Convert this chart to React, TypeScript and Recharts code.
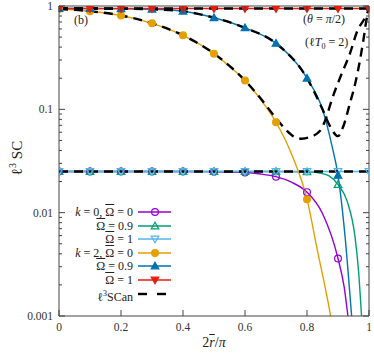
import React from "react";
import { ComposedChart, Line, XAxis, YAxis } from "recharts";

const W = 374;
const H = 353;
// plot frame edges (px), used only for tick decorations
const L = 59;
const R = 369;
const T = 6;
const B = 316;

const FONT = "'Liberation Serif', 'DejaVu Serif', serif";

// k = 0 series
const k0Om0X = [0, 0.1, 0.2, 0.3, 0.4, 0.5, 0.6, 0.65, 0.7, 0.75, 0.8, 0.85, 0.9, 0.92, 0.932, 0.945];
const k0Om0Y = [0.025, 0.025, 0.025, 0.025, 0.025, 0.0249, 0.0245, 0.0237, 0.0223, 0.0197, 0.0158, 0.0098, 0.0036, 0.0019, 0.001, 0.0005];

const k0Om09X = [0, 0.1, 0.2, 0.3, 0.4, 0.5, 0.6, 0.7, 0.8, 0.85, 0.87, 0.9, 0.93, 0.955, 0.966, 0.976, 0.985];
const k0Om09Y = [0.025, 0.025, 0.025, 0.025, 0.025, 0.025, 0.025, 0.025, 0.0248, 0.0239, 0.0228, 0.0187, 0.0128, 0.0058, 0.0028, 0.001, 0.0004];

const k0Om1X = [0, 0.1, 0.2, 0.3, 0.4, 0.5, 0.6, 0.7, 0.8, 0.9, 1];
const k0Om1Y = [0.025, 0.025, 0.025, 0.025, 0.025, 0.025, 0.025, 0.025, 0.025, 0.025, 0.025];

// k = 2 series
const k2Om0X = [0, 0.1, 0.2, 0.3, 0.4, 0.5, 0.55, 0.6, 0.65, 0.7, 0.75, 0.8, 0.835, 0.86, 0.876, 0.89];
const k2Om0Y = [0.935, 0.89, 0.81, 0.68, 0.52, 0.346, 0.26, 0.19, 0.125, 0.075, 0.037, 0.0135, 0.0041, 0.0018, 0.001, 0.0005];

const k2Om09X = [0, 0.1, 0.2, 0.3, 0.4, 0.5, 0.6, 0.7, 0.8, 0.85, 0.88, 0.9, 0.923, 0.944, 0.955];
const k2Om09Y = [0.945, 0.945, 0.94, 0.93, 0.89, 0.77, 0.615, 0.435, 0.2, 0.1, 0.045, 0.023, 0.0058, 0.001, 0.0004];

const k2Om1X = [0, 0.1, 0.2, 0.3, 0.4, 0.5, 0.6, 0.7, 0.8, 0.9, 1];
const k2Om1Y = [0.945, 0.945, 0.945, 0.945, 0.945, 0.945, 0.945, 0.945, 0.945, 0.945, 0.945];

// analytic curves (black dashed)
const anFlatLowX = [0, 1];
const anFlatLowY = [0.025, 0.025];
const anFlatTopX = [0, 1];
const anFlatTopY = [0.945, 0.945];
const anOm0X = [0, 0.1, 0.2, 0.3, 0.4, 0.5, 0.6, 0.65, 0.7, 0.735, 0.76, 0.783, 0.81, 0.842, 0.86, 0.88, 0.906, 0.939, 0.962, 0.987, 1];
const anOm0Y = [0.935, 0.89, 0.81, 0.68, 0.52, 0.346, 0.19, 0.128, 0.082, 0.062, 0.054, 0.052, 0.054, 0.062, 0.08, 0.124, 0.2, 0.35, 0.57, 0.77, 0.93];
const anOm09X = [0, 0.1, 0.2, 0.3, 0.4, 0.5, 0.6, 0.7, 0.8, 0.85, 0.875, 0.9, 0.916, 0.939, 0.955, 0.971, 0.982, 0.992, 1];
const anOm09Y = [0.945, 0.945, 0.94, 0.93, 0.89, 0.77, 0.615, 0.435, 0.2, 0.1, 0.068, 0.055, 0.067, 0.116, 0.175, 0.3, 0.47, 0.74, 0.93];

// axes
const xTicks = [0, 0.2, 0.4, 0.6, 0.8, 1];
const yMajor = [0.001, 0.01, 0.1, 1];
const yTicks = [
  0.001, 0.002, 0.003, 0.004, 0.005, 0.006, 0.007, 0.008, 0.009,
  0.01, 0.02, 0.03, 0.04, 0.05, 0.06, 0.07, 0.08, 0.09,
  0.1, 0.2, 0.3, 0.4, 0.5, 0.6, 0.7, 0.8, 0.9, 1,
];

const pts = (xs: number[], ys: number[]) => xs.map((x, i) => ({ x, y: ys[i] }));

const C = {
  purple: "#9400d3",
  green: "#009e73",
  sky: "#56b4e9",
  orange: "#e69f00",
  blue: "#0072b2",
  red: "#e51e10",
};

type Shape = "circle" | "tri" | "itri";

const mark = (shape: Shape, color: string, filled: boolean, cx: number, cy: number, key?: any) => {
  const fill = filled ? color : "none";
  if (shape === "circle")
    return <circle key={key} cx={cx} cy={cy} r={3.4} fill={fill} stroke={color} strokeWidth={1.2} />;
  const s = 3.8;
  const p =
    shape === "tri"
      ? `${cx},${cy - s} ${cx - s},${cy + s * 0.75} ${cx + s},${cy + s * 0.75}`
      : `${cx},${cy + s} ${cx - s},${cy - s * 0.75} ${cx + s},${cy - s * 0.75}`;
  return <polygon key={key} points={p} fill={fill} stroke={color} strokeWidth={1.2} />;
};

// markers only every 0.1 in x
const dotFn = (shape: Shape, color: string, filled: boolean) => (p: any) => {
  const k = p.payload.x * 10;
  if (p.cx == null || p.cy == null || Math.abs(k - Math.round(k)) > 1e-6) return <g key={p.index} />;
  return mark(shape, color, filled, p.cx, p.cy, p.index);
};

const YLeftTick = (p: any) => {
  const v = p.payload.value;
  const major = yMajor.includes(v);
  return (
    <g>
      <line x1={L} x2={L + (major ? 6 : 3)} y1={p.y} y2={p.y} stroke="#444" />
      {major && (
        <text x={L - 6} y={p.y + 4} textAnchor="end" fontSize={11.5} fill="#333" fontFamily={FONT}>
          {String(v)}
        </text>
      )}
    </g>
  );
};

const YRightTick = (p: any) => {
  const major = yMajor.includes(p.payload.value);
  return <line x1={R} x2={R - (major ? 6 : 3)} y1={p.y} y2={p.y} stroke="#444" />;
};

const XBottomTick = (p: any) => (
  <g>
    <line x1={p.x} x2={p.x} y1={B} y2={B - 6} stroke="#444" />
    <text x={p.x} y={B + 15} textAnchor="middle" fontSize={11.5} fill="#333" fontFamily={FONT}>
      {String(p.payload.value)}
    </text>
  </g>
);

const XTopTick = (p: any) => <line x1={p.x} x2={p.x} y1={T} y2={T + 6} stroke="#444" />;

const Ob = ({ children }: { children: React.ReactNode }) => (
  <span style={{ textDecoration: "overline" }}>{children}</span>
);

const legendRows: { label: React.ReactNode; color: string; shape?: Shape; filled?: boolean }[] = [
  { label: <><i>k</i> = 0, <Ob>Ω</Ob> = 0</>, color: C.purple, shape: "circle", filled: false },
  { label: <><Ob>Ω</Ob> = 0.9</>, color: C.green, shape: "tri", filled: false },
  { label: <><Ob>Ω</Ob> = 1</>, color: C.sky, shape: "itri", filled: false },
  { label: <><i>k</i> = 2, <Ob>Ω</Ob> = 0</>, color: C.orange, shape: "circle", filled: true },
  { label: <><Ob>Ω</Ob> = 0.9</>, color: C.blue, shape: "tri", filled: true },
  { label: <><Ob>Ω</Ob> = 1</>, color: C.red, shape: "itri", filled: true },
  { label: <>ℓ<sup style={{ fontSize: 8 }}>3</sup>SCan</>, color: "#000" },
];

const series = [
  { xs: k0Om0X, ys: k0Om0Y, color: C.purple, shape: "circle" as Shape, filled: false },
  { xs: k0Om09X, ys: k0Om09Y, color: C.green, shape: "tri" as Shape, filled: false },
  { xs: k0Om1X, ys: k0Om1Y, color: C.sky, shape: "itri" as Shape, filled: false },
  { xs: k2Om0X, ys: k2Om0Y, color: C.orange, shape: "circle" as Shape, filled: true },
  { xs: k2Om09X, ys: k2Om09Y, color: C.blue, shape: "tri" as Shape, filled: true },
  { xs: k2Om1X, ys: k2Om1Y, color: C.red, shape: "itri" as Shape, filled: true },
];

const analytic = [
  pts(anFlatLowX, anFlatLowY),
  pts(anFlatTopX, anFlatTopY),
  pts(anOm0X, anOm0Y),
  pts(anOm09X, anOm09Y),
];

export default function App() {
  const rowY0 = 212;
  const rowDy = 13.6;
  return (
    <div style={{ position: "absolute", left: 0, top: 0, width: W, height: H, background: "#fff", fontFamily: FONT, color: "#222" }}>
      <ComposedChart width={W} height={H} margin={{ top: 0, right: 0, bottom: 0, left: 0 }}>
        <XAxis xAxisId="b" type="number" dataKey="x" domain={[0, 1]} ticks={xTicks} interval={0}
          allowDataOverflow height={37} tickLine={false} axisLine={{ stroke: "#444" }} tick={<XBottomTick />} />
        <XAxis xAxisId="t" orientation="top" type="number" dataKey="x" domain={[0, 1]} ticks={xTicks} interval={0}
          allowDataOverflow height={6} tickLine={false} axisLine={{ stroke: "#444" }} tick={<XTopTick />} />
        <YAxis yAxisId="l" type="number" scale="log" domain={[0.001, 1]} ticks={yTicks} interval={0}
          allowDataOverflow width={59} tickLine={false} axisLine={{ stroke: "#444" }} tick={<YLeftTick />} />
        <YAxis yAxisId="r" orientation="right" type="number" scale="log" domain={[0.001, 1]} ticks={yTicks} interval={0}
          allowDataOverflow width={5} tickLine={false} axisLine={{ stroke: "#444" }} tick={<YRightTick />} />
        {series.map((s, i) => (
          <Line key={"s" + i} xAxisId="b" yAxisId="l" data={pts(s.xs, s.ys)} dataKey="y" type="monotone"
            stroke={s.color} strokeWidth={1.4} dot={dotFn(s.shape, s.color, s.filled)} activeDot={false}
            isAnimationActive={false} />
        ))}
        {analytic.map((d, i) => (
          <Line key={"a" + i} xAxisId="b" yAxisId="l" data={d} dataKey="y" type="monotone"
            stroke="#000" strokeWidth={2.4} strokeDasharray="9 6" dot={false} activeDot={false}
            isAnimationActive={false} />
        ))}
      </ComposedChart>

      {/* legend */}
      {legendRows.map((r, i) => {
        const cy = rowY0 + i * rowDy;
        return (
          <React.Fragment key={i}>
            <div style={{ position: "absolute", right: W - 133, top: cy - 8, fontSize: 12, lineHeight: "16px", whiteSpace: "nowrap", textAlign: "right" }}>
              {r.label}
            </div>
            <svg style={{ position: "absolute", left: 136, top: cy - 7 }} width={38} height={14}>
              {r.shape ? (
                <>
                  <line x1={2} x2={35} y1={7} y2={7} stroke={r.color} strokeWidth={1.4} />
                  {mark(r.shape, r.color, !!r.filled, 19, 7)}
                </>
              ) : (
                <>
                  <line x1={2} x2={11} y1={7} y2={7} stroke="#000" strokeWidth={2.4} />
                  <line x1={21} x2={30} y1={7} y2={7} stroke="#000" strokeWidth={2.4} />
                </>
              )}
            </svg>
          </React.Fragment>
        );
      })}

      {/* annotations */}
      <div style={{ position: "absolute", left: 74, top: 13, fontSize: 12 }}>(b)</div>
      <div style={{ position: "absolute", left: 303, top: 12, fontSize: 12, whiteSpace: "nowrap" }}>
        (<i>θ</i> = <i>π</i>/2)
      </div>
      <div style={{ position: "absolute", left: 305, top: 35, fontSize: 12, whiteSpace: "nowrap" }}>
        (ℓ<i>T</i><sub style={{ fontSize: 8 }}>0</sub> = 2)
      </div>

      {/* axis titles */}
      <div style={{ position: "absolute", left: 16, top: 158, transform: "translate(-50%, -50%) rotate(-90deg)", fontSize: 15, whiteSpace: "nowrap" }}>
        ℓ<sup style={{ fontSize: 10 }}>3</sup> SC
      </div>
      <div style={{ position: "absolute", left: 214, top: 343, transform: "translate(-50%, -50%)", fontSize: 14, whiteSpace: "nowrap" }}>
        2<i><Ob>r</Ob></i>/<i>π</i>
      </div>
    </div>
  );
}
